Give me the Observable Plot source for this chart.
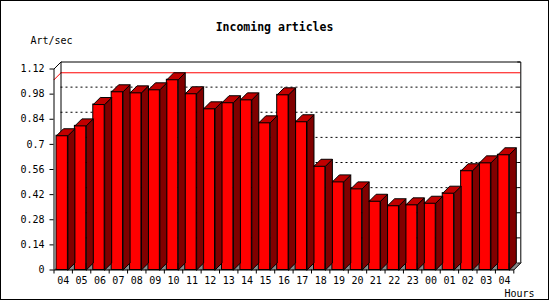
<!DOCTYPE html>
<html><head><meta charset="utf-8">
<script src="https://cdn.jsdelivr.net/npm/d3@7"></script>
<script src="https://cdn.jsdelivr.net/npm/@observablehq/plot@0.6"></script>
<style>
html,body{margin:0;padding:0;background:#fff;}
#wrap{position:relative;width:550px;height:300px;}
#border{position:absolute;left:0;top:0;width:549px;height:300px;box-sizing:border-box;border:1px solid #000;pointer-events:none;}
</style></head><body>
<div id="wrap"><div id="chart"></div><div id="border"></div></div>
<script>
const hours = ["04","05","06","07","08","09","10","11","12","13","14","15","16","17","18","19","20","21","22","23","00","01","02","03","04"];
const artPerSec = [0.748,0.803,0.922,0.993,0.987,1.004,1.060,0.982,0.898,0.932,0.948,0.820,0.976,0.826,0.578,0.491,0.452,0.383,0.358,0.363,0.372,0.428,0.553,0.597,0.642];
const yTicks = [0,0.14,0.28,0.42,0.56,0.7,0.84,0.98,1.12];
const yTickLabels = ["0","0.14","0.28","0.42","0.56","0.7","0.84","0.98","1.12"];
const title = "Incoming articles";
const yLabel = "Art/sec";
const xLabel = "Hours";

// layout
const W = 550, H = 300, ML = 53.5, MR = 36.7, MT = 68.5, MB = 30.5;
const n = hours.length;
const yMax = yTicks[yTicks.length - 1];
const pxX = (W - ML - MR) / n;
const pxY = (H - MT - MB) / yMax;
const D = 7; // 3D depth in px
const ddx = D / pxX, ddy = D / pxY;
const bx0 = 2.5 / pxX;
const bw = (pxX - D) / pxX;

const bars = artPerSec.map((v, i) => ({i, v, x0: i + bx0, x1: i + bx0 + bw}));
const sides = [], tops = [];
bars.forEach(b => {
  [[b.x1, 0], [b.x1 + ddx, ddy], [b.x1 + ddx, b.v + ddy], [b.x1, b.v], [b.x1, 0]]
    .forEach(([x, y]) => sides.push({id: b.i, x, y}));
  [[b.x0, b.v], [b.x0 + ddx, b.v + ddy], [b.x1 + ddx, b.v + ddy], [b.x1, b.v], [b.x0, b.v]]
    .forEach(([x, y]) => tops.push({id: b.i, x, y}));
});
const floor = [[0, 0], [ddx, ddy], [n + ddx, ddy], [n, 0], [0, 0]].map(([x, y]) => ({x, y}));
const backFrame = [[ddx, ddy], [ddx, yMax + ddy], [n + ddx, yMax + ddy], [n + ddx, ddy]].map(([x, y]) => ({x, y}));
const diag1 = [[0, yMax], [ddx, yMax + ddy]].map(([x, y]) => ({x, y}));
const diag2 = [[n, 0], [n + ddx, ddy]].map(([x, y]) => ({x, y}));
const maxV = d3.max(artPerSec);
const maxDiag = [[0, maxV], [ddx, maxV + ddy]].map(([x, y]) => ({x, y}));
const gridVals = yTicks.filter(t => t > 0 && t < yMax);

const font = "'DejaVu Sans Mono', monospace";

const chart = Plot.plot({
  width: W, height: H,
  marginLeft: ML, marginRight: MR, marginTop: MT, marginBottom: MB,
  style: {fontFamily: font, fontSize: "10px", background: "transparent", color: "black", overflow: "visible"},
  x: {domain: [0, n], axis: null},
  y: {domain: [0, yMax], axis: null},
  marks: [
    Plot.line(floor, {x: "x", y: "y", fill: "#8c8c8c", stroke: "none"}),
    Plot.ruleY(gridVals, {y: d => d + ddy, x1: ddx, x2: n + ddx, stroke: "black", strokeWidth: 1, strokeDasharray: "2,3"}),
    Plot.ruleY(yTicks, {y: d => d + ddy, x1: n + ddx - 3 / pxX, x2: n + ddx, stroke: "black"}),
    Plot.ruleY([maxV], {y: d => d + ddy, x1: ddx, x2: n + ddx, stroke: "#ff0000", strokeWidth: 1}),
    Plot.line(maxDiag, {x: "x", y: "y", stroke: "#ff0000", strokeWidth: 1}),
    Plot.line(backFrame, {x: "x", y: "y", stroke: "black", strokeWidth: 1, strokeLinejoin: "miter", strokeLinecap: "butt"}),
    Plot.line(diag1, {x: "x", y: "y", stroke: "black", strokeWidth: 1}),
    Plot.line(diag2, {x: "x", y: "y", stroke: "black", strokeWidth: 1}),
    Plot.rect(bars, {x1: "x0", x2: "x1", y1: 0, y2: "v", fill: "#ff0000", stroke: "black", strokeWidth: 1}),
    Plot.line(sides, {x: "x", y: "y", z: "id", fill: "#800000", stroke: "black", strokeWidth: 1, strokeLinejoin: "miter"}),
    Plot.line(tops, {x: "x", y: "y", z: "id", fill: "#c00000", stroke: "black", strokeWidth: 1, strokeLinejoin: "miter"}),
    Plot.ruleX([0], {y1: 0, y2: yMax, stroke: "black"}),
    Plot.ruleY([0], {x1: 0, x2: n, stroke: "black"}),
    Plot.ruleY(yTicks, {y: d => d, x1: -4 / pxX, x2: 0, stroke: "black"}),
    Plot.ruleX(d3.range(n + 1), {x: d => d, y1: 0, y2: -4 / pxY, stroke: "black"}),
    Plot.text(yTicks, {x: 0, y: d => d, dx: -9.5, text: (d, i) => yTickLabels[i], textAnchor: "end", lineAnchor: "middle", fill: "black"}),
    Plot.text(hours, {x: (d, i) => i + 0.5, y: 0, dy: 14, text: d => d, lineAnchor: "bottom", fill: "black"}),
    Plot.text([title], {frameAnchor: "top-left", dx: 220.5, dy: -38, text: d => d, textAnchor: "middle", lineAnchor: "bottom", fontWeight: "bold", fontSize: 11.5, fill: "black"}),
    Plot.text([yLabel], {frameAnchor: "top-left", dx: -23.5, dy: -25.5, text: d => d, textAnchor: "start", lineAnchor: "bottom", fill: "black"}),
    Plot.text([xLabel], {frameAnchor: "bottom-right", dx: 20.7, dy: 26.5, text: d => d, textAnchor: "end", lineAnchor: "bottom", fill: "black"})
  ]
});
document.getElementById("chart").appendChild(chart);
</script>
</body></html>
